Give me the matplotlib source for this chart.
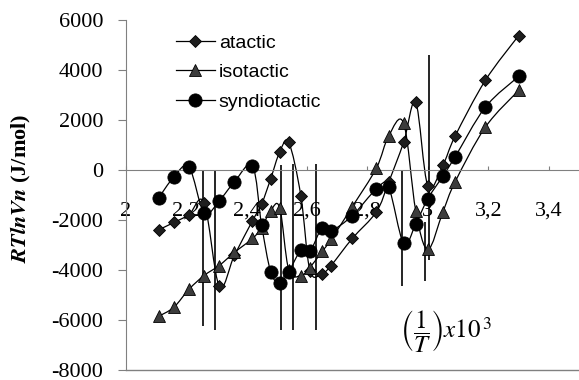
import numpy as np
import matplotlib
matplotlib.use('Agg')
import matplotlib.pyplot as plt
from matplotlib.path import Path
from matplotlib.patches import PathPatch
from matplotlib.lines import Line2D

plt.rcParams['mathtext.fontset'] = 'stix'

# ---------------- data ----------------
inv_T = [2.11, 2.16, 2.21, 2.26, 2.31, 2.36, 2.42, 2.45, 2.48, 2.51, 2.54, 2.58, 2.61,
         2.65, 2.68, 2.75, 2.83, 2.87, 2.92, 2.96, 3.00, 3.05, 3.09, 3.19, 3.30]
atactic = [-2390, -2100, -1790, -1310, -4650, -3420, -2030, -1370, -360, 720, 1110, -1030,
           -4020, -4140, -3820, -2740, -1670, -500, 1110, 2700, -640, 200, 1350, 3580, 5370]
isotactic = [-5850, -5490, -4770, -4220, -3820, -3300, -2740, -2310, -1630, -1510, -4000,
             -4220, -3900, -3260, -2780, -1470, 80, 1350, 1870, -1630, -3180, -1670, -480,
             1710, 3180]
syndiotactic = [-1110, -280, 120, -1710, -1230, -480, 160, -2190, -4060, -4530, -4060,
                -3220, -3260, -2310, -2430, -1830, -760, -680, -2940, -2150, -1150, -240,
                520, 2510, 3740]
series_names = ['atactic', 'isotactic', 'syndiotactic']

vline_x = [2.256, 2.295, 2.513, 2.553, 2.629, 2.916, 2.992, 3.005]
vline_top = [0, 0, 200, 250, 250, 0, -2100, 4600]
vline_bottom = [-6250, -6400, -6400, -6400, -6400, -4650, -4450, -3600]

xtick_vals = [2.0, 2.2, 2.4, 2.6, 2.8, 3.0, 3.2, 3.4]
xtick_labels = ['2', '2,2', '2,4', '2,6', '2,8', '3', '3,2', '3,4']
ytick_vals = [-8000, -6000, -4000, -2000, 0, 2000, 4000, 6000]
ytick_labels = ['-8000', '-6000', '-4000', '-2000', '0', '2000', '4000', '6000']


def smooth_path(xs, ys):
    pts = np.column_stack([xs, ys]).astype(float)
    n = len(pts)
    verts = [pts[0]]
    codes = [Path.MOVETO]
    for i in range(n - 1):
        p0 = pts[i - 1] if i > 0 else pts[i]
        p1 = pts[i]
        p2 = pts[i + 1]
        p3 = pts[i + 2] if i + 2 < n else pts[i + 1]
        verts += [p1 + (p2 - p0) / 6.0, p2 - (p3 - p1) / 6.0, p2]
        codes += [Path.CURVE4] * 3
    return Path(verts, codes)


W, H = 579, 380
fig = plt.figure(figsize=(W / 100, H / 100), dpi=100)
left_px, top_px, bot_px = 125.5, 20, 370
ax = fig.add_axes([left_px / W, 1 - bot_px / H, (W - left_px) / W, (bot_px - top_px) / H])
ax.set_xlim(2.0, 3.5)
ax.set_ylim(-8000, 6000)

gray = '#808080'
for s in ['top', 'right']:
    ax.spines[s].set_visible(False)
ax.spines['left'].set_color(gray)
ax.spines['bottom'].set_color(gray)
ax.spines['bottom'].set_position(('data', 0))
ax.axhline(-8000, color=gray, lw=1.0, clip_on=False)

ax.set_xticks(xtick_vals)
ax.set_xticklabels(xtick_labels, fontfamily='Liberation Serif', fontsize=16)
ax.set_yticks(ytick_vals)
ax.set_yticklabels(ytick_labels, fontfamily='Liberation Serif', fontsize=16)
ax.tick_params(axis='x', direction='in', length=3, color=gray, pad=23)
ax.tick_params(axis='y', direction='out', length=6, color=gray, pad=10)

styles = [
    dict(marker='D', ms=6.3, mfc='#1e1e1e', mec='black', mew=0.6),
    dict(marker='^', ms=9.0, mfc='#3c3c3c', mec='black', mew=0.6),
    dict(marker='o', ms=9.5, mfc='black', mec='black', mew=0.6),
]
data = [atactic, isotactic, syndiotactic]

for k, (ys, st) in enumerate(zip(data, styles)):
    patch = PathPatch(smooth_path(inv_T, ys), facecolor='none', edgecolor='black',
                      lw=0.9, transform=ax.transData, zorder=2)
    ax.add_patch(patch)

ax.vlines(vline_x, vline_bottom, vline_top, colors='black', lw=1.2, zorder=2.5)

for k, (ys, st) in enumerate(zip(data, styles)):
    ax.plot(inv_T, ys, linestyle='none', zorder=3 + k, **st)

handles = [Line2D([], [], color='black', lw=0.9, **st) for st in styles]
fig.legend(handles, series_names, loc='upper left',
           bbox_to_anchor=(176 / W, 1 - 34 / H), frameon=False, borderpad=0,
           borderaxespad=0, handlelength=2.0, handletextpad=0.2, labelspacing=0.62,
           prop={'family': 'Liberation Sans', 'size': 14})

fig.text(21 / W, 1 - 188 / H, r'$\mathbfit{RTlnVn}$ (J/mol)', rotation=90,
         ha='center', va='center', fontfamily='Liberation Serif', fontweight='bold',
         fontsize=16)

ax.text(3.06, -6420, r'$\left(\dfrac{1}{T}\right)x10^{\,3}$', ha='center', va='center',
        fontsize=18, fontfamily='Liberation Serif')

fig.savefig('out.png', dpi=100)
